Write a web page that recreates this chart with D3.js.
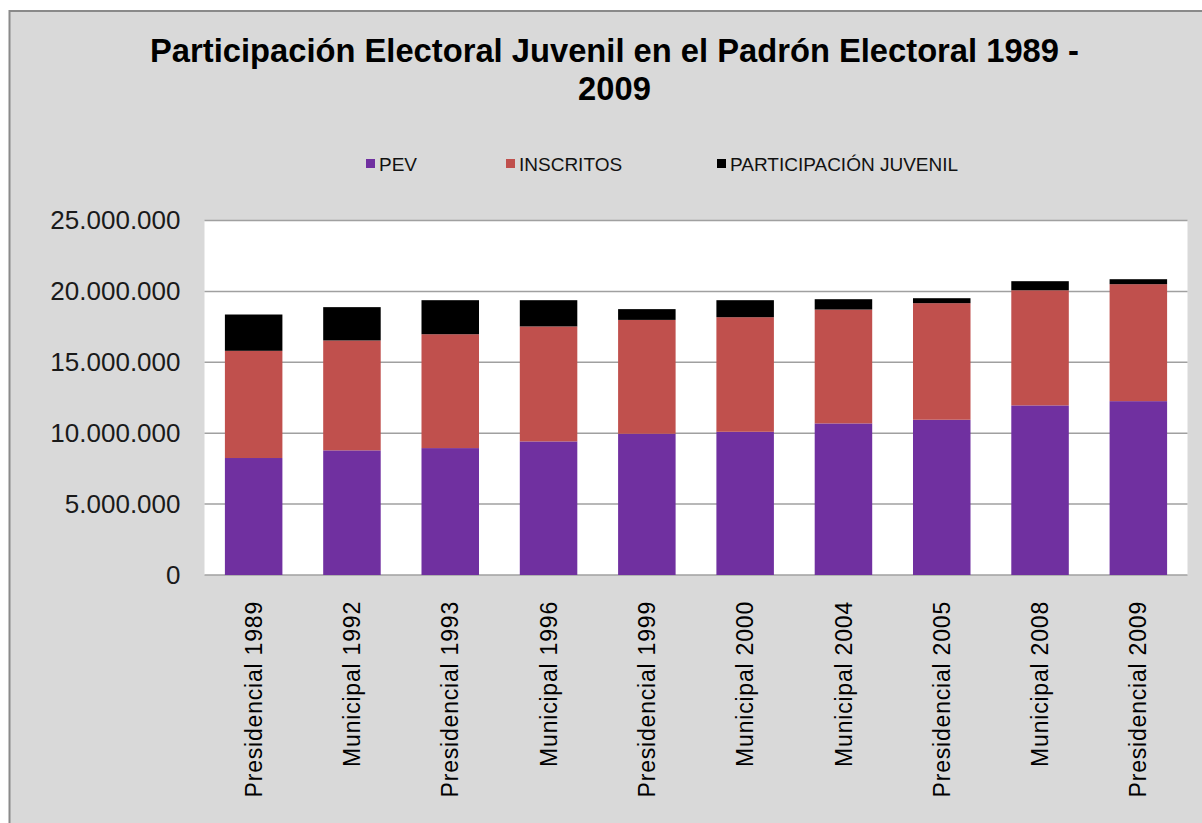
<!DOCTYPE html>
<html>
<head>
<meta charset="utf-8">
<script src="https://cdn.jsdelivr.net/npm/d3@7"></script>
<style>
  html, body { margin: 0; padding: 0; background: #ffffff; }
  svg { display: block; font-family: "Liberation Sans", Arial, sans-serif; }
</style>
</head>
<body>
<svg id="chart" width="1202" height="823"></svg>
<script>
// Election rounds (x categories)
const categories = [
  "Presidencial 1989", "Municipal 1992", "Presidencial 1993", "Municipal 1996",
  "Presidencial 1999", "Municipal 2000", "Municipal 2004", "Presidencial 2005",
  "Municipal 2008", "Presidencial 2009"
];

// Stacked series values
const pev = [8250000, 8790000, 8950000, 9420000, 9960000, 10100000, 10690000, 10950000, 11960000, 12260000];
const inscritos = [7560000, 7750000, 8030000, 8110000, 8030000, 8080000, 8030000, 8220000, 8120000, 8250000];
const participacion = [2560000, 2350000, 2400000, 1850000, 760000, 1200000, 730000, 350000, 640000, 350000];

const seriesNames = ["PEV", "INSCRITOS", "PARTICIPACIÓN JUVENIL"];
const yTicks = [0, 5000000, 10000000, 15000000, 20000000, 25000000];

const titleLines = ["Participación Electoral Juvenil en el Padrón Electoral 1989 -", "2009"];

const colors = ["#7030a0", "#c0504d", "#000000"];

const rows = categories.map((c, i) => ({
  cat: c,
  "PEV": pev[i],
  "INSCRITOS": inscritos[i],
  "PARTICIPACIÓN JUVENIL": participacion[i]
}));

const svg = d3.select("#chart");

// chart background with frame
svg.append("rect")
  .attr("x", 9.5).attr("y", 11)
  .attr("width", 1202).attr("height", 823)
  .attr("fill", "#d9d9d9")
  .attr("stroke", "#8a8a8a").attr("stroke-width", 2);

const plot = { left: 204.5, right: 1187.5, top: 220.5, bottom: 575 };

const x = d3.scaleBand()
  .domain(categories)
  .range([plot.left, plot.right])
  .paddingInner(0.415)
  .paddingOuter(0.2075);

const y = d3.scaleLinear()
  .domain([0, 25000000])
  .range([plot.bottom, plot.top]);

// plot area
svg.append("rect")
  .attr("x", plot.left).attr("y", plot.top)
  .attr("width", plot.right - plot.left)
  .attr("height", plot.bottom - plot.top)
  .attr("fill", "#ffffff");

// horizontal gridlines
svg.append("g")
  .selectAll("line")
  .data(yTicks)
  .join("line")
  .attr("x1", plot.left).attr("x2", plot.right)
  .attr("y1", d => y(d)).attr("y2", d => y(d))
  .attr("stroke", "#a0a0a0").attr("stroke-width", 1.5);

// stacked bars
const stack = d3.stack().keys(seriesNames)(rows);
svg.append("g")
  .selectAll("g")
  .data(stack)
  .join("g")
  .attr("fill", (d, i) => colors[i])
  .selectAll("rect")
  .data(d => d)
  .join("rect")
  .attr("x", d => x(d.data.cat))
  .attr("width", x.bandwidth())
  .attr("y", d => y(d[1]))
  .attr("height", d => y(d[0]) - y(d[1]));

// y axis labels
const locale = d3.formatLocale({ decimal: ",", thousands: ".", grouping: [3], currency: ["", ""] });
const fmt = locale.format(",d");
const yAxis = d3.axisLeft(y).tickValues(yTicks).tickFormat(fmt).tickSize(0).tickPadding(24);
const yg = svg.append("g")
  .attr("transform", `translate(${plot.left},0)`)
  .call(yAxis);
yg.select(".domain").remove();
yg.selectAll("text")
  .attr("font-size", 26)
  .attr("fill", "#1a1a1a")
  .attr("font-family", "'Liberation Sans', Arial, sans-serif");

// x axis labels, rotated
const xAxis = d3.axisBottom(x).tickSize(0).tickPadding(0);
const xg = svg.append("g")
  .attr("transform", `translate(0,${plot.bottom})`)
  .call(xAxis);
xg.select(".domain").remove();
xg.selectAll("text")
  .attr("font-size", 23)
  .attr("letter-spacing", 0.8)
  .attr("fill", "#000")
  .attr("font-family", "'Liberation Sans', Arial, sans-serif")
  .attr("text-anchor", "end")
  .attr("dy", "0.35em")
  .attr("transform", "translate(0,26) rotate(-90)")
  .attr("y", 0)
  .attr("x", 0);

// title
const titleG = svg.append("g");
const t1 = titleG.append("text")
  .attr("x", 614.5).attr("y", 62.5)
  .attr("text-anchor", "middle")
  .attr("font-size", 34).attr("font-weight", "bold")
  .text(titleLines[0]);
const natural = t1.node().getComputedTextLength();
const sx = 929 / natural;
titleG.append("text")
  .attr("x", 614.5).attr("y", 100.5)
  .attr("text-anchor", "middle")
  .attr("font-size", 34).attr("font-weight", "bold")
  .text(titleLines[1]);
titleG.attr("transform", `translate(614.5,0) scale(${sx},1) translate(-614.5,0)`);

// legend
const legendX = [366, 506, 717];
const lg = svg.append("g");
seriesNames.forEach((name, i) => {
  lg.append("rect")
    .attr("x", legendX[i]).attr("y", 159)
    .attr("width", 9).attr("height", 9)
    .attr("fill", colors[i]);
  lg.append("text")
    .attr("x", legendX[i] + 13).attr("y", 170.5)
    .attr("font-size", 19)
    .attr("fill", "#111")
    .text(name);
});
</script>
</body>
</html>
